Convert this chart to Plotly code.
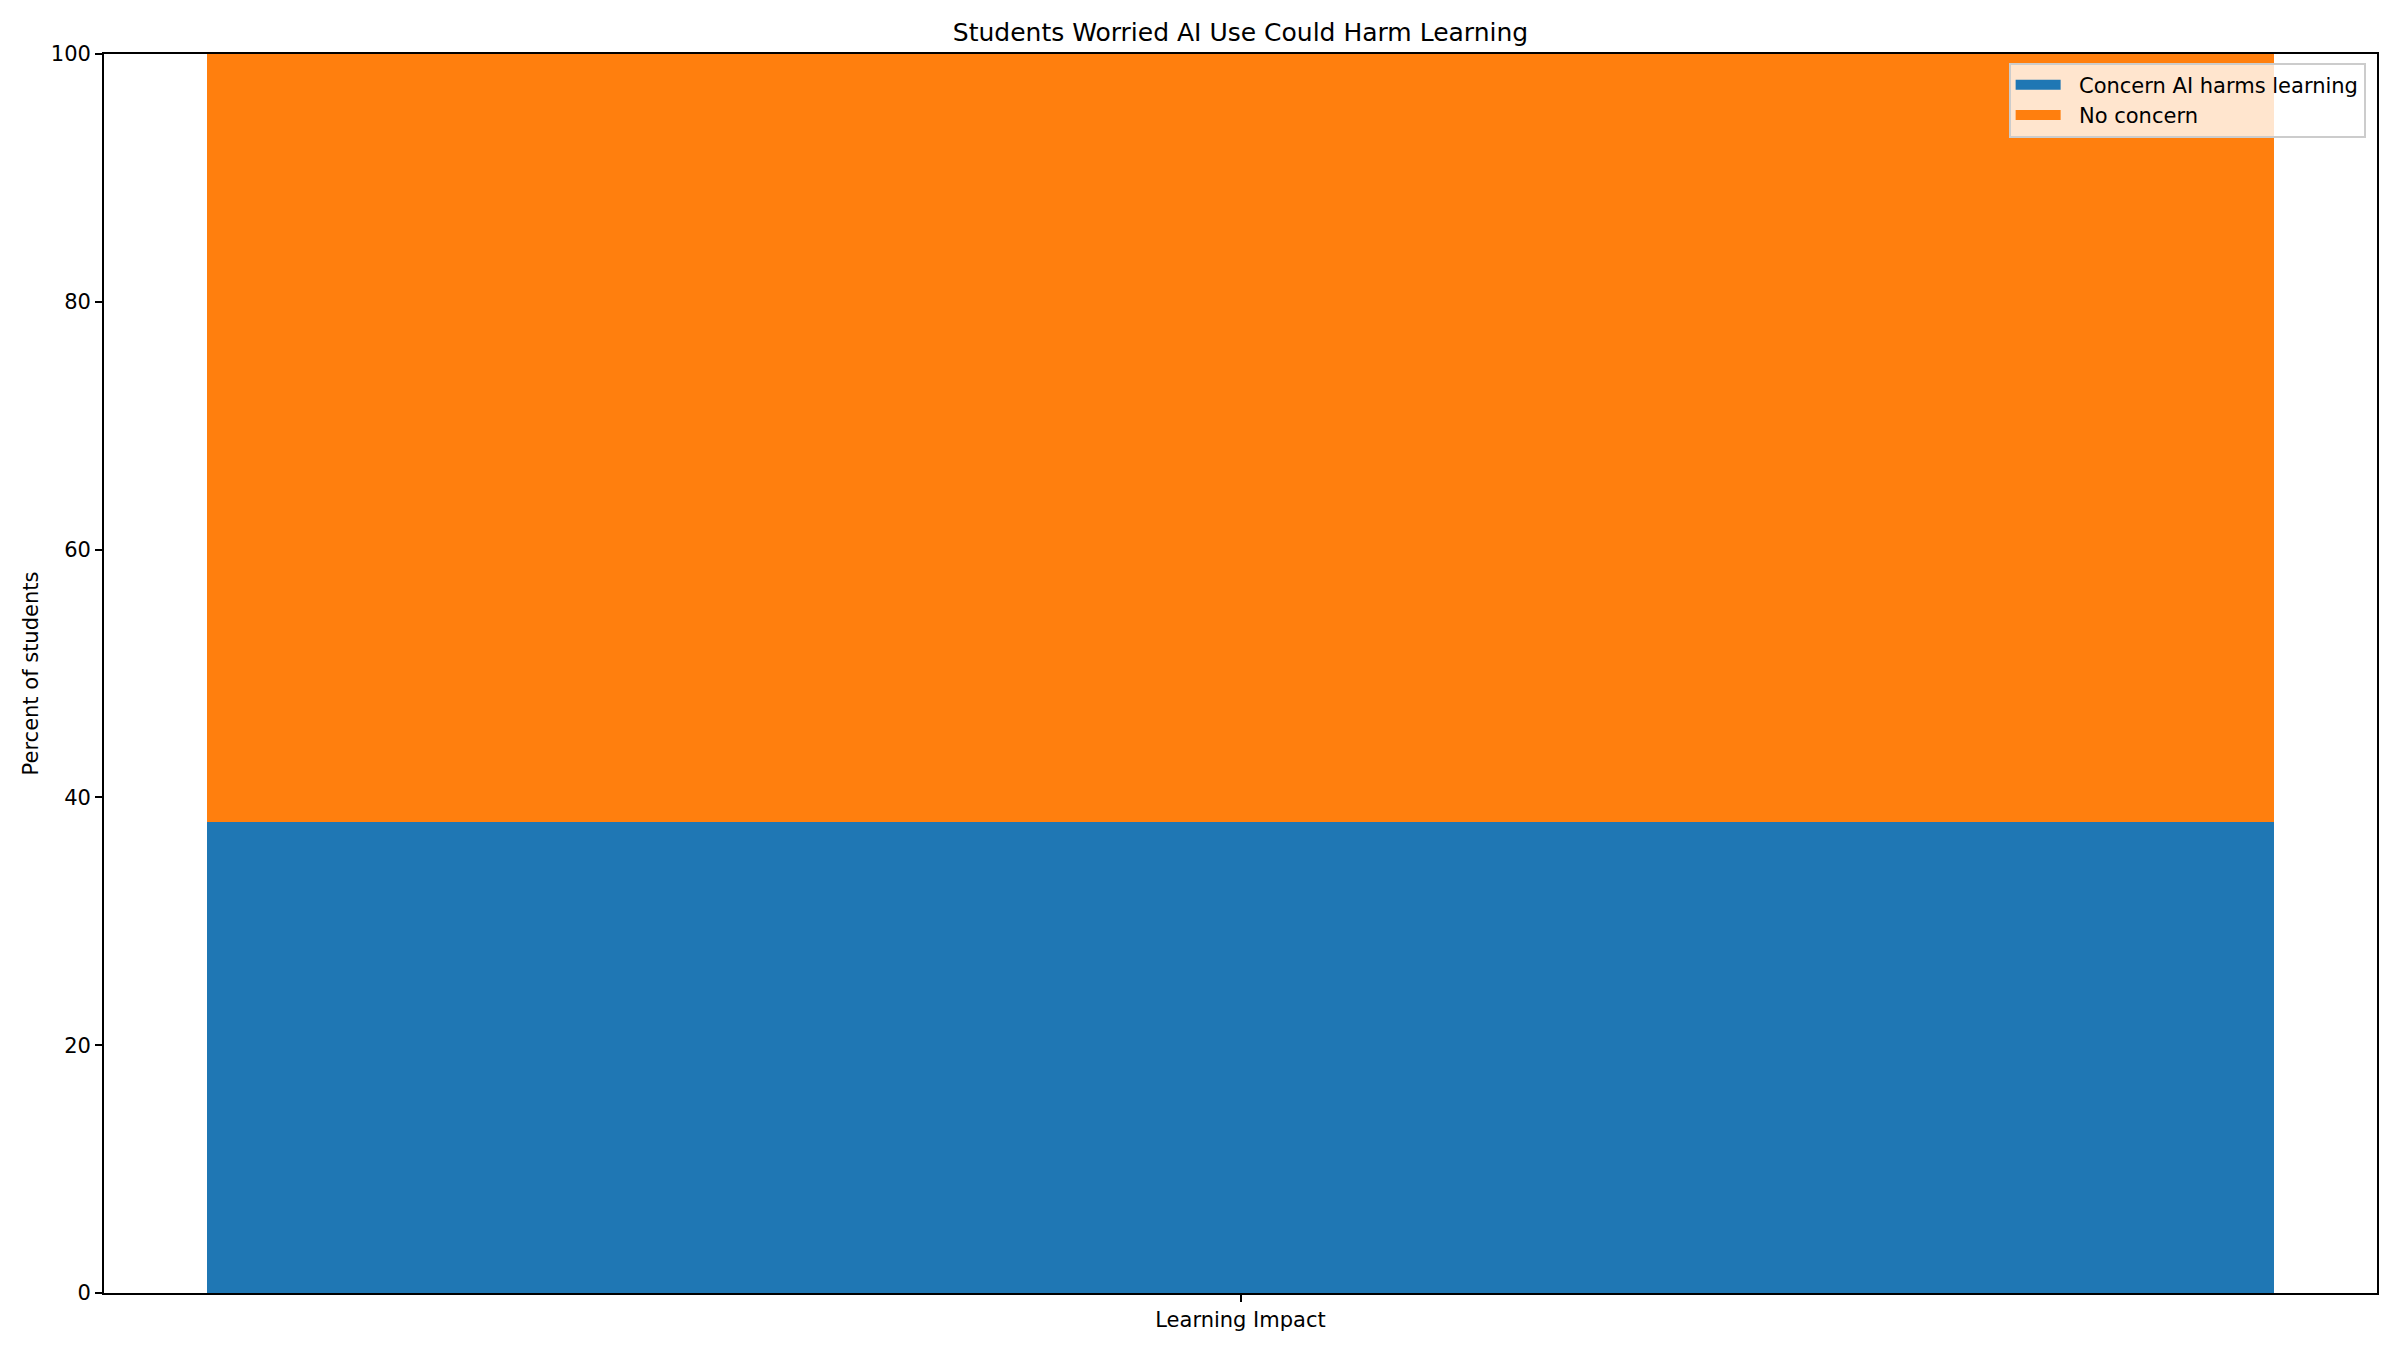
import plotly.graph_objects as go

categories = ["Learning Impact"]
concern = [38]
no_concern = [62]
series_names = ["Concern AI harms learning", "No concern"]
colors = ["#1f77b4", "#ff7f0e"]
y_ticks = [0, 20, 40, 60, 80, 100]

fig = go.Figure()
fig.add_trace(go.Bar(x=[0], y=concern, name=series_names[0], marker=dict(color=colors[0], line=dict(width=0)),
                     width=0.8, showlegend=False, legendgroup="a"))
fig.add_trace(go.Bar(x=[0], y=no_concern, name=series_names[1], marker=dict(color=colors[1], line=dict(width=0)),
                     width=0.8, showlegend=False, legendgroup="b"))
# legend entries drawn as wide rectangle-like line swatches (matplotlib style patches)
for name, col, grp in zip(series_names, colors, ["a", "b"]):
    fig.add_trace(go.Scatter(x=[None], y=[None], mode="lines", name="\u00a0\u00a0" + name, legendgroup=grp,
                             line=dict(color=col, width=15), showlegend=True))

font = "DejaVu Sans, Arial, sans-serif"
# page body has an 8px default margin, so the figure is 8px smaller and margins shifted
fig.update_layout(
    barmode="stack",
    width=2392, height=1342,
    margin=dict(l=96, r=23, t=46, b=57),
    paper_bgcolor="white", plot_bgcolor="white",
    font=dict(family=font, size=21, color="black"),
    title=dict(text="Students Worried AI Use Could Harm Learning", x=0.5, xanchor="center",
               xref="paper", y=1 - 24 / 1342, yanchor="middle", font=dict(size=25, family=font, color="black")),
    showlegend=True,
    legend=dict(x=0.995, y=0.993, xanchor="right", yanchor="top", traceorder="normal",
                bgcolor="rgba(255,255,255,0.8)", bordercolor="#cccccc", borderwidth=2,
                font=dict(size=21, family=font), itemwidth=45),
    xaxis=dict(range=[-0.44, 0.44], tickmode="array", tickvals=[0], ticktext=categories,
               showgrid=False, zeroline=False, showline=True, linecolor="black", linewidth=1.7,
               mirror=True, ticks="outside", ticklen=7, tickwidth=1.7, tickcolor="black"),
    yaxis=dict(range=[0, 100], tickmode="array", tickvals=y_ticks, showgrid=False, zeroline=False,
               showline=True, linecolor="black", linewidth=1.7, mirror=True, ticks="outside",
               ticklen=7, tickwidth=1.7, tickcolor="black",
               title=dict(text="Percent of students", font=dict(size=21, family=font), standoff=7)),
)

fig.write_html("out.html")
